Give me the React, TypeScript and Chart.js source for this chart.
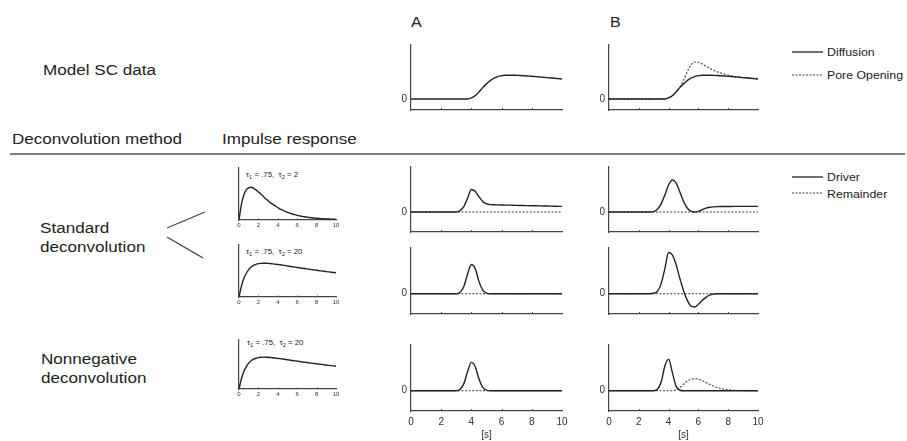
import React, { useEffect, useRef } from "react";
import { Chart, registerables } from "chart.js";

Chart.register(...registerables);
Chart.defaults.font.family = '"Liberation Sans", Arial, Helvetica, sans-serif';

// time grid (seconds)
const T = [
  0, 0.25, 0.5, 0.75, 1, 1.25, 1.5, 1.75, 2, 2.25, 2.5, 2.75, 3, 3.25, 3.5, 3.75, 4, 4.25, 4.5, 4.75,
  5, 5.25, 5.5, 5.75, 6, 6.25, 6.5, 6.75, 7, 7.25, 7.5, 7.75, 8, 8.25, 8.5, 8.75, 9, 9.25, 9.5, 9.75, 10,
];
const X_TICKS = [0, 2, 4, 6, 8, 10];

// Model SC data
const scDiffusion = [
  0, 0, 0, 0, 0, 0, 0, 0, 0, 0, 0, 0, 0, 0, 0, 0,
  0.02, 0.06, 0.13, 0.21, 0.28, 0.34, 0.385, 0.415, 0.43, 0.44, 0.44, 0.44, 0.438, 0.435, 0.43, 0.425,
  0.42, 0.414, 0.408, 0.402, 0.396, 0.39, 0.384, 0.377, 0.37,
];
const scPoreOpening = [
  0, 0, 0, 0, 0, 0, 0, 0, 0, 0, 0, 0, 0, 0, 0, 0,
  0.02, 0.06, 0.13, 0.22, 0.35, 0.5, 0.63, 0.685, 0.68, 0.65, 0.61, 0.57, 0.535, 0.505, 0.48, 0.46,
  0.445, 0.43, 0.418, 0.405, 0.396, 0.39, 0.384, 0.377, 0.37,
];

// Impulse responses
const irShort = [
  0, 0.3, 0.48, 0.58, 0.62, 0.63, 0.61, 0.58, 0.54, 0.5, 0.455, 0.41, 0.37, 0.33, 0.3, 0.27, 0.24,
  0.21, 0.19, 0.165, 0.147, 0.131, 0.116, 0.102, 0.09, 0.08, 0.07, 0.062, 0.055, 0.048, 0.043, 0.038,
  0.033, 0.029, 0.026, 0.023, 0.02, 0.018, 0.016, 0.014, 0.012,
];
const irLong = [
  0, 0.208, 0.355, 0.457, 0.527, 0.576, 0.608, 0.628, 0.641, 0.647, 0.65, 0.649, 0.647, 0.642, 0.637,
  0.631, 0.625, 0.62, 0.613, 0.605, 0.597, 0.59, 0.583, 0.575, 0.568, 0.561, 0.554, 0.547, 0.541,
  0.534, 0.527, 0.521, 0.514, 0.508, 0.502, 0.495, 0.489, 0.483, 0.477, 0.471, 0.465,
];

// Standard deconvolution, tau2 = 2
const stdShortDriverA = [
  0, 0, 0, 0, 0, 0, 0, 0, 0, 0, 0, 0, 0,
  0.03, 0.12, 0.31, 0.5, 0.46, 0.34, 0.235, 0.18, 0.165, 0.16, 0.158, 0.156, 0.154, 0.152, 0.15,
  0.148, 0.146, 0.144, 0.142, 0.14, 0.138, 0.136, 0.134, 0.132, 0.13, 0.128, 0.126, 0.125,
];
const stdShortDriverB = [
  0, 0, 0, 0, 0, 0, 0, 0, 0, 0, 0, 0,
  0.01, 0.06, 0.18, 0.38, 0.6, 0.71, 0.65, 0.45, 0.24, 0.09, 0.02, 0, 0.015, 0.05, 0.085, 0.105,
  0.115, 0.12, 0.122, 0.123, 0.124, 0.124, 0.125, 0.125, 0.125, 0.125, 0.125, 0.125, 0.125,
];
// Standard deconvolution, tau2 = 20
const stdLongDriverA = [
  0, 0, 0, 0, 0, 0, 0, 0, 0, 0, 0, 0, 0,
  0.03, 0.16, 0.43, 0.64, 0.55, 0.27, 0.08, 0.015,
  0, 0, 0, 0, 0, 0, 0, 0, 0, 0, 0, 0, 0, 0, 0, 0, 0, 0, 0, 0,
];
const stdLongDriverB = [
  0, 0, 0, 0, 0, 0, 0, 0, 0, 0, 0, 0,
  0.01, 0.05, 0.22, 0.55, 0.9, 0.85, 0.64, 0.34, 0.07, -0.14, -0.27, -0.29, -0.23, -0.15, -0.08,
  -0.03, -0.01, 0, 0, 0, 0, 0, 0, 0, 0, 0, 0, 0, 0,
];
// Nonnegative deconvolution
const nnDriverA = [
  0, 0, 0, 0, 0, 0, 0, 0, 0, 0, 0, 0, 0,
  0.03, 0.155, 0.42, 0.62, 0.53, 0.26, 0.075, 0.015,
  0, 0, 0, 0, 0, 0, 0, 0, 0, 0, 0, 0, 0, 0, 0, 0, 0, 0, 0, 0,
];
const nnDriverB = [
  0, 0, 0, 0, 0, 0, 0, 0, 0, 0, 0, 0, 0,
  0.03, 0.19, 0.54, 0.69, 0.4, 0.1, 0.01, 0,
  0, 0, 0, 0, 0, 0, 0, 0, 0, 0, 0, 0, 0, 0, 0, 0, 0, 0, 0, 0,
];
const nnRemainderB = [
  0, 0, 0, 0, 0, 0, 0, 0, 0, 0, 0, 0, 0, 0, 0, 0, 0, 0,
  0.02, 0.07, 0.14, 0.21, 0.25, 0.26, 0.25, 0.22, 0.18, 0.14, 0.1, 0.07, 0.045, 0.03, 0.02, 0.012,
  0.007, 0.004, 0.002, 0, 0, 0, 0,
];
const zeroRemainder = [
  0, 0, 0, 0, 0, 0, 0, 0, 0, 0, 0, 0, 0, 0, 0, 0, 0, 0, 0, 0, 0,
  0, 0, 0, 0, 0, 0, 0, 0, 0, 0, 0, 0, 0, 0, 0, 0, 0, 0, 0, 0,
];

const FONT = '"Liberation Sans", Arial, Helvetica, sans-serif';
const INK = "#222";
const AXIS = "#444";
const DASH = "#3a3a3a";

const inTicks = {
  id: "inTicks",
  afterDraw(chart: any, _a: any, opts: any) {
    if (!opts || !opts.values) return;
    const xs = chart.scales.x;
    const { ctx, chartArea } = chart;
    ctx.save();
    ctx.strokeStyle = AXIS;
    ctx.lineWidth = 1;
    for (const v of opts.values) {
      const px = Math.round(xs.getPixelForValue(v)) + 0.5;
      ctx.beginPath();
      ctx.moveTo(px, chartArea.bottom);
      ctx.lineTo(px, chartArea.bottom - opts.len);
      ctx.stroke();
    }
    ctx.restore();
  },
};

type S = { data: number[]; dash?: boolean };
type Kind = "main" | "mainBottom" | "ir";

function Panel(props: {
  left: number; top: number; w: number; h: number;
  ymin: number; ymax: number; series: S[]; kind: Kind;
}) {
  const { left, top, w, h, ymin, ymax, series, kind } = props;
  const ref = useRef<HTMLCanvasElement | null>(null);
  const isIR = kind === "ir";
  const yW = isIR ? 0 : 14;
  const padL = isIR ? 5 : 0;
  const padT = 6;
  const padR = 8;
  const xH = kind === "mainBottom" ? 30 : isIR ? 10 : 1;
  const cw = padL + yW + w + padR;
  const ch = padT + h + xH;
  const cl = left - yW - padL;
  const ct = top - padT;

  useEffect(() => {
    if (!ref.current) return;
    const chart = new Chart(ref.current, {
      type: "line",
      data: {
        datasets: series.map((s) => ({
          data: T.map((t, i) => ({ x: t, y: s.data[i] })),
          borderColor: s.dash ? DASH : INK,
          borderWidth: s.dash ? 1.1 : 1.4,
          borderDash: s.dash ? [2, 1.6] : [],
          pointRadius: 0,
          fill: false,
          cubicInterpolationMode: "monotone" as const,
        })),
      },
      plugins: [inTicks as any],
      options: {
        responsive: false,
        animation: false,
        events: [],
        layout: { padding: { left: padL, top: padT, right: padR, bottom: 0 } },
        plugins: {
          legend: { display: false },
          tooltip: { enabled: false },
          inTicks: { values: [2, 4, 6, 8], len: isIR ? 1.5 : 2 },
        } as any,
        scales: {
          x: {
            type: "linear",
            min: 0,
            max: 10,
            afterBuildTicks: (s: any) => { s.ticks = X_TICKS.map((v) => ({ value: v })); },
            afterFit: (s: any) => {
              s.height = xH; s.paddingLeft = 0; s.paddingRight = 0; s.paddingTop = 0; s.paddingBottom = 0;
            },
            grid: { display: false, drawTicks: false },
            border: { display: true, color: AXIS, width: 1.2 },
            ticks: {
              display: kind !== "main",
              padding: isIR ? 1.5 : 5,
              color: "#333",
              font: { size: isIR ? 6 : 10 },
              maxRotation: 0,
              autoSkip: false,
            },
            title: {
              display: kind === "mainBottom",
              text: "[s]",
              color: "#333",
              font: { size: 10 },
              padding: { top: 0, bottom: 0 },
            },
          },
          y: {
            type: "linear",
            min: ymin,
            max: ymax,
            afterBuildTicks: (s: any) => { s.ticks = [{ value: 0 }]; },
            afterFit: (s: any) => {
              s.width = yW; s.paddingTop = 0; s.paddingBottom = 0; s.paddingLeft = 0; s.paddingRight = 0;
            },
            grid: { display: false, drawTicks: false },
            border: { display: true, color: AXIS, width: 1.2 },
            ticks: {
              display: !isIR,
              padding: 4,
              color: "#333",
              font: { size: 10 },
              callback: () => "0",
            },
          },
        },
      } as any,
    });
    return () => chart.destroy();
  }, []);

  return (
    <canvas
      ref={ref}
      width={cw}
      height={ch}
      style={{ position: "absolute", left: cl, top: ct, width: cw, height: ch }}
    />
  );
}

function Txt(props: { x: number; y: number; size: number; sx: number; children: React.ReactNode }) {
  return (
    <div
      style={{
        position: "absolute",
        left: props.x,
        top: props.y,
        fontFamily: FONT,
        fontSize: props.size,
        lineHeight: `${props.size}px`,
        color: INK,
        whiteSpace: "nowrap",
        transform: `scaleX(${props.sx})`,
        transformOrigin: "left top",
      }}
    >
      {props.children}
    </div>
  );
}

function Tau(props: { x: number; y: number; t2: string }) {
  const sub: React.CSSProperties = { fontSize: 5, verticalAlign: "-2px" };
  return (
    <Txt x={props.x} y={props.y} size={7} sx={1.12}>
      τ<span style={sub}>1</span> = .75,&nbsp; τ<span style={sub}>2</span> = {props.t2}
    </Txt>
  );
}

export default function App() {
  const TOP_MIN = -0.204;
  const ROW_MIN = -0.444;
  return (
    <div
      style={{
        position: "absolute", left: 0, top: 0, width: 907, height: 441,
        background: "#fff", overflow: "hidden",
      }}
    >
      <Txt x={411} y={15} size={14} sx={1.15}>A</Txt>
      <Txt x={610} y={15} size={14} sx={1.15}>B</Txt>
      <Txt x={43} y={63} size={14} sx={1.22}>Model SC data</Txt>
      <Txt x={12} y={132} size={14} sx={1.22}>Deconvolution method</Txt>
      <Txt x={222} y={132} size={14} sx={1.22}>Impulse response</Txt>
      <Txt x={40} y={221} size={14} sx={1.22}>Standard</Txt>
      <Txt x={40} y={240} size={14} sx={1.22}>deconvolution</Txt>
      <Txt x={41} y={352} size={14} sx={1.22}>Nonnegative</Txt>
      <Txt x={41} y={371} size={14} sx={1.22}>deconvolution</Txt>

      <Txt x={827} y={47} size={11} sx={1.12}>Diffusion</Txt>
      <Txt x={827} y={70} size={11} sx={1.12}>Pore Opening</Txt>
      <Txt x={827} y={172} size={11} sx={1.12}>Driver</Txt>
      <Txt x={827} y={189} size={11} sx={1.12}>Remainder</Txt>

      <Tau x={246} y={171} t2="2" />
      <Tau x={246} y={248} t2="20" />
      <Tau x={247} y={339} t2="20" />

      <svg width={907} height={441} style={{ position: "absolute", left: 0, top: 0 }}>
        <line x1={10} y1={154} x2={905} y2={154} stroke="#555" strokeWidth={1.6} />
        <line x1={167} y1={228} x2={205} y2={212} stroke="#444" strokeWidth={1.3} />
        <line x1={167} y1={237} x2={203} y2={258} stroke="#444" strokeWidth={1.3} />
        <line x1={792} y1={52} x2={823} y2={52} stroke={INK} strokeWidth={1.3} />
        <line x1={792} y1={75} x2={823} y2={75} stroke={DASH} strokeWidth={1.1} strokeDasharray="2 1.5" />
        <line x1={792} y1={177} x2={823} y2={177} stroke={INK} strokeWidth={1.3} />
        <line x1={792} y1={193} x2={823} y2={193} stroke={DASH} strokeWidth={1.1} strokeDasharray="2 1.5" />
      </svg>

      <Panel left={411} top={45} w={151} h={65} ymin={TOP_MIN} ymax={1} kind="main"
        series={[{ data: scDiffusion }]} />
      <Panel left={609} top={45} w={149} h={65} ymin={TOP_MIN} ymax={1} kind="main"
        series={[{ data: scDiffusion }, { data: scPoreOpening, dash: true }]} />

      <Panel left={239} top={168} w={97} h={52} ymin={0} ymax={1} kind="ir" series={[{ data: irShort }]} />
      <Panel left={239} top={245} w={97} h={52} ymin={0} ymax={1} kind="ir" series={[{ data: irLong }]} />
      <Panel left={239} top={340} w={97} h={49} ymin={0} ymax={1} kind="ir" series={[{ data: irLong }]} />

      <Panel left={411} top={167} w={151} h={65} ymin={ROW_MIN} ymax={1} kind="main"
        series={[{ data: stdShortDriverA }, { data: zeroRemainder, dash: true }]} />
      <Panel left={609} top={167} w={149} h={65} ymin={ROW_MIN} ymax={1} kind="main"
        series={[{ data: stdShortDriverB }, { data: zeroRemainder, dash: true }]} />
      <Panel left={411} top={248} w={151} h={66} ymin={ROW_MIN} ymax={1} kind="main"
        series={[{ data: stdLongDriverA }, { data: zeroRemainder, dash: true }]} />
      <Panel left={609} top={248} w={149} h={66} ymin={ROW_MIN} ymax={1} kind="main"
        series={[{ data: stdLongDriverB }, { data: zeroRemainder, dash: true }]} />
      <Panel left={411} top={345} w={151} h={66} ymin={ROW_MIN} ymax={1} kind="mainBottom"
        series={[{ data: nnDriverA }, { data: zeroRemainder, dash: true }]} />
      <Panel left={609} top={345} w={149} h={66} ymin={ROW_MIN} ymax={1} kind="mainBottom"
        series={[{ data: nnDriverB }, { data: nnRemainderB, dash: true }]} />
    </div>
  );
}
